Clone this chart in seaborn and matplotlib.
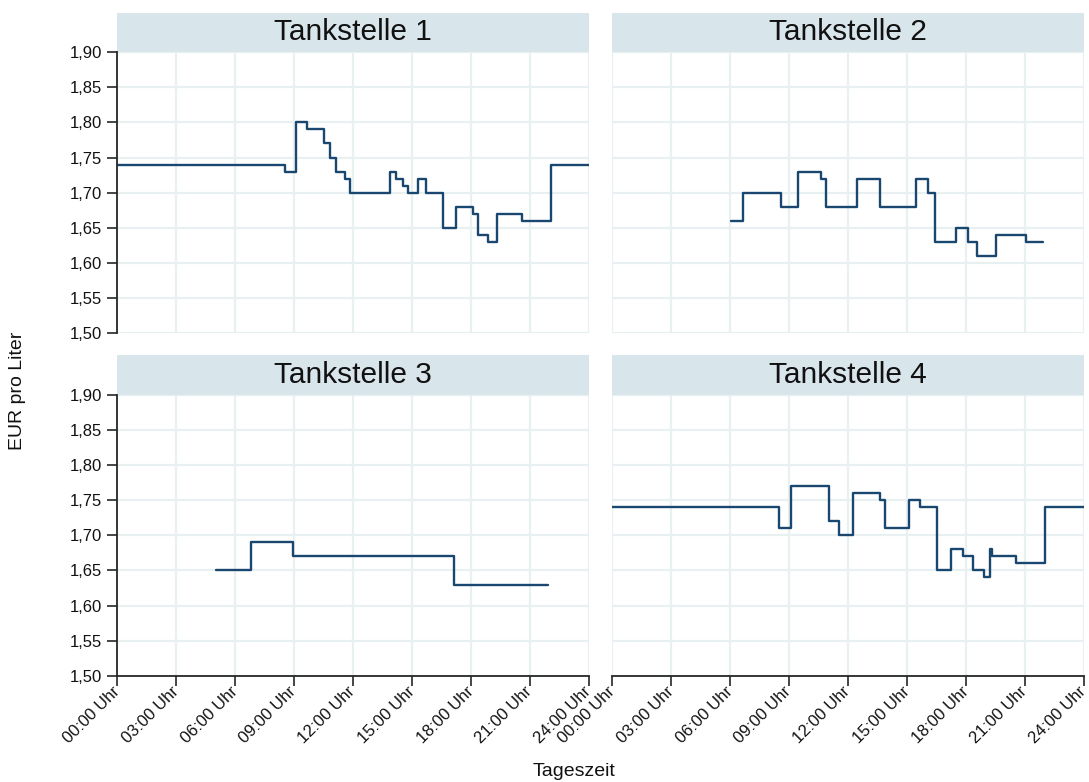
import numpy as np
import pandas as pd
import matplotlib
matplotlib.use("Agg")
import matplotlib.pyplot as plt
import seaborn as sns
from matplotlib.patches import Rectangle

# ---------------- data ----------------
stations = ["Tankstelle 1", "Tankstelle 2", "Tankstelle 3", "Tankstelle 4"]

t1_hours = [0.0, 8.54, 9.1, 9.66, 10.5, 10.83, 11.13, 11.6, 11.85, 13.88, 14.2, 14.55,
            14.8, 15.3, 15.7, 16.58, 17.24, 18.1, 18.36, 18.86, 19.3, 20.6, 22.07, 24.0]
t1_price = [1.74, 1.73, 1.80, 1.79, 1.77, 1.75, 1.73, 1.72, 1.70, 1.73, 1.72, 1.71,
            1.70, 1.72, 1.70, 1.65, 1.68, 1.67, 1.64, 1.63, 1.67, 1.66, 1.74, 1.74]

t2_hours = [6.03, 6.68, 8.6, 9.47, 10.63, 10.88, 12.47, 13.63, 15.46, 16.08, 16.42,
            17.49, 18.12, 18.54, 19.53, 21.05, 21.93]
t2_price = [1.66, 1.70, 1.68, 1.73, 1.72, 1.68, 1.72, 1.68, 1.72, 1.70, 1.63,
            1.65, 1.63, 1.61, 1.64, 1.63, 1.63]

t3_hours = [5.03, 6.8, 8.97, 17.15, 21.93]
t3_price = [1.65, 1.69, 1.67, 1.63, 1.63]

t4_hours = [0.0, 8.51, 9.08, 11.03, 11.56, 12.24, 13.63, 13.9, 15.08, 15.66, 16.51,
            17.22, 17.86, 18.34, 18.92, 19.22, 19.3, 20.54, 22.02, 24.0]
t4_price = [1.74, 1.71, 1.77, 1.72, 1.70, 1.76, 1.75, 1.71, 1.75, 1.74, 1.65,
            1.68, 1.67, 1.65, 1.64, 1.68, 1.67, 1.66, 1.74, 1.74]

x_ticks = [0, 3, 6, 9, 12, 15, 18, 21, 24]
x_labels = ["00:00 Uhr", "03:00 Uhr", "06:00 Uhr", "09:00 Uhr", "12:00 Uhr",
            "15:00 Uhr", "18:00 Uhr", "21:00 Uhr", "24:00 Uhr"]
y_ticks = [1.50, 1.55, 1.60, 1.65, 1.70, 1.75, 1.80, 1.85, 1.90]
y_labels = ["1,50", "1,55", "1,60", "1,65", "1,70", "1,75", "1,80", "1,85", "1,90"]

hours_all = [t1_hours, t2_hours, t3_hours, t4_hours]
price_all = [t1_price, t2_price, t3_price, t4_price]
frames = []
for name, h, p in zip(stations, hours_all, price_all):
    frames.append(pd.DataFrame({"station": name, "hour": h, "price": p}))
df = pd.concat(frames, ignore_index=True)

# ---------------- style ----------------
sns.set_theme(style="white")
plt.rcParams["font.family"] = ["Liberation Sans", "DejaVu Sans"]

LINE = "#1a476f"
GRID = "#e8f0f2"
STRIP = "#d8e5eb"
SPINE = "#262626"

g = sns.relplot(data=df, x="hour", y="price", col="station", col_wrap=2,
                kind="line", drawstyle="steps-post", color=LINE, linewidth=1.7,
                height=3, aspect=1.0, facet_kws={"sharex": False, "sharey": False},
                estimator=None, sort=True)
fig = g.figure
fig.set_size_inches(10.89, 7.82)
fig.set_dpi(100)

axes = g.axes.flatten()
for i, ax in enumerate(axes):
    row, col = divmod(i, 2)
    ax.set_title("")
    ax.set_xlim(0, 24)
    ax.set_ylim(1.50, 1.90)
    ax.set_xticks(x_ticks)
    ax.set_yticks(y_ticks)
    ax.set_axisbelow(True)
    ax.grid(True, color=GRID, linewidth=1.6)
    for s in ["top", "right"]:
        ax.spines[s].set_visible(False)
    ax.set_xlabel("")
    ax.set_ylabel("")
    ax.tick_params(axis="both", which="both", length=7.5, width=1.2, color=SPINE,
                   labelsize=12, labelcolor="#111111")
    ax.tick_params(axis="y", pad=3.5)
    ax.tick_params(axis="x", pad=2)
    if col == 0:
        ax.set_yticklabels(y_labels)
        ax.spines["left"].set_color(SPINE)
        ax.spines["left"].set_linewidth(1.3)
        ax.tick_params(axis="y", left=True, labelleft=True)
    else:
        ax.spines["left"].set_visible(False)
        ax.tick_params(axis="y", left=False, labelleft=False)
    if row == 1:
        ax.set_xticklabels(x_labels, rotation=45, ha="right", va="center",
                           rotation_mode="anchor")
        ax.spines["bottom"].set_color(SPINE)
        ax.spines["bottom"].set_linewidth(1.3)
        ax.tick_params(axis="x", bottom=True, labelbottom=True)
    else:
        ax.spines["bottom"].set_visible(False)
        ax.tick_params(axis="x", bottom=False, labelbottom=False)
    # strip header
    ax.add_patch(Rectangle((0, 1.0), 1, 0.139, transform=ax.transAxes,
                           facecolor=STRIP, edgecolor="none", clip_on=False, zorder=0))
    ax.text(0.5, 1.0 + 0.139 / 2, stations[i], transform=ax.transAxes,
            ha="center", va="center", fontsize=21.5, color="#111111")

fig.subplots_adjust(left=117 / 1089, right=1084 / 1089, top=1 - 52 / 782,
                    bottom=1 - 676 / 782, wspace=23 / 472, hspace=61 / 281)

fig.text(18 / 1089, 0.5, "EUR pro Liter", rotation=90, ha="center", va="center",
         fontsize=14, color="#111111")
fig.text(574 / 1089, 1 - 771 / 782, "Tageszeit", ha="center", va="center",
         fontsize=14, color="#111111")

fig.savefig("out.png", dpi=100, facecolor="white")
